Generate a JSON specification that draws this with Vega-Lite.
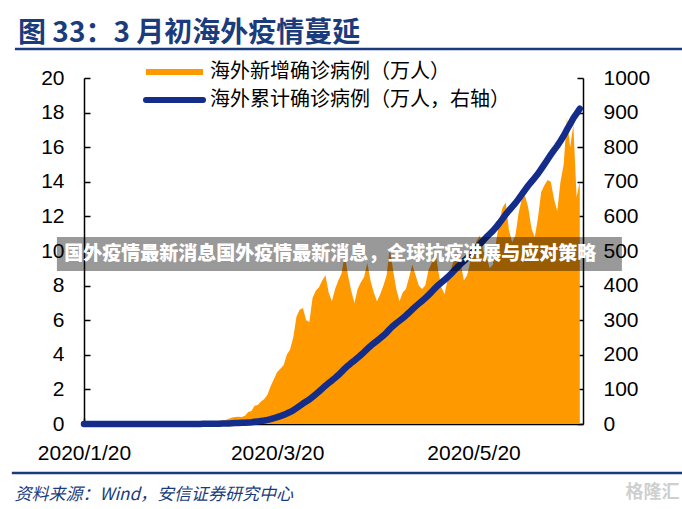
{
"$schema": "https://vega.github.io/schema/vega-lite/v6.json",
"width": 499, "height": 346,
"autosize": {"type": "none"},
"padding": {"left": 84, "top": 78, "right": 99, "bottom": 85},
"background": "white",
"config": {"view": {"stroke": null}, "font": "Liberation Sans", "axis": {"labelOverlap": false}},
"title": {"text": "图 33：3 月初海外疫情蔓延", "anchor": "start", "frame": "group", "dx": -66, "offset": 0, "font": "Noto Sans CJK SC", "fontSize": 28, "fontWeight": "bold", "color": "#1B3C7C"},
"datasets": {"d": [
{"date":"2020-01-20","new":0.0002,"cum":0.0006},{"date":"2020-01-21","new":0.0001,"cum":0.0007},{"date":"2020-01-22","new":0.0002,"cum":0.0009},{"date":"2020-01-23","new":0.0003,"cum":0.0012},{"date":"2020-01-24","new":0.0005,"cum":0.0017},{"date":"2020-01-25","new":0.0006,"cum":0.0023},{"date":"2020-01-26","new":0.0008,"cum":0.0031},{"date":"2020-01-27","new":0.0007,"cum":0.0038},{"date":"2020-01-28","new":0.001,"cum":0.0048},{"date":"2020-01-29","new":0.001,"cum":0.0058},{"date":"2020-01-30","new":0.0015,"cum":0.0073},{"date":"2020-01-31","new":0.002,"cum":0.0093},
{"date":"2020-02-01","new":0.002,"cum":0.0113},{"date":"2020-02-02","new":0.002,"cum":0.0133},{"date":"2020-02-03","new":0.002,"cum":0.0153},{"date":"2020-02-04","new":0.003,"cum":0.0183},{"date":"2020-02-05","new":0.003,"cum":0.0213},{"date":"2020-02-06","new":0.003,"cum":0.0243},{"date":"2020-02-07","new":0.004,"cum":0.0283},{"date":"2020-02-08","new":0.004,"cum":0.0323},{"date":"2020-02-09","new":0.003,"cum":0.0353},{"date":"2020-02-10","new":0.004,"cum":0.0393},{"date":"2020-02-11","new":0.003,"cum":0.0423},{"date":"2020-02-12","new":0.003,"cum":0.0453},{"date":"2020-02-13","new":0.004,"cum":0.0493},{"date":"2020-02-14","new":0.005,"cum":0.0543},{"date":"2020-02-15","new":0.005,"cum":0.0593},{"date":"2020-02-16","new":0.004,"cum":0.0633},{"date":"2020-02-17","new":0.005,"cum":0.0683},{"date":"2020-02-18","new":0.006,"cum":0.0743},{"date":"2020-02-19","new":0.008,"cum":0.0823},{"date":"2020-02-20","new":0.01,"cum":0.0923},
{"date":"2020-02-21","new":0.02,"cum":0.11},{"date":"2020-02-22","new":0.04,"cum":0.15},{"date":"2020-02-23","new":0.05,"cum":0.2},{"date":"2020-02-24","new":0.04,"cum":0.24},{"date":"2020-02-25","new":0.06,"cum":0.3},{"date":"2020-02-26","new":0.07,"cum":0.37},{"date":"2020-02-27","new":0.08,"cum":0.45},{"date":"2020-02-28","new":0.1,"cum":0.55},{"date":"2020-02-29","new":0.12,"cum":0.67},
{"date":"2020-03-01","new":0.18,"cum":0.85},{"date":"2020-03-02","new":0.19,"cum":1.04},{"date":"2020-03-03","new":0.2,"cum":1.24},{"date":"2020-03-04","new":0.23,"cum":1.47},{"date":"2020-03-05","new":0.3,"cum":1.77},{"date":"2020-03-06","new":0.38,"cum":2.15},{"date":"2020-03-07","new":0.4,"cum":2.55},{"date":"2020-03-08","new":0.42,"cum":2.97},{"date":"2020-03-09","new":0.4,"cum":3.37},{"date":"2020-03-10","new":0.48,"cum":3.85},
{"date":"2020-03-11","new":0.7,"cum":4.55},{"date":"2020-03-12","new":0.75,"cum":5.3},{"date":"2020-03-13","new":1.05,"cum":6.35},{"date":"2020-03-14","new":1.1,"cum":7.45},{"date":"2020-03-15","new":1.3,"cum":8.75},{"date":"2020-03-16","new":1.45,"cum":10.2},{"date":"2020-03-17","new":1.7,"cum":11.9},{"date":"2020-03-18","new":2.2,"cum":14.1},{"date":"2020-03-19","new":2.6,"cum":16.7},{"date":"2020-03-20","new":3.0,"cum":19.7},
{"date":"2020-03-21","new":3.2,"cum":22.9},{"date":"2020-03-22","new":3.4,"cum":26.3},{"date":"2020-03-23","new":4.0,"cum":30.3},{"date":"2020-03-24","new":4.3,"cum":34.6},{"date":"2020-03-25","new":5.0,"cum":39.6},{"date":"2020-03-26","new":6.2,"cum":45.8},{"date":"2020-03-27","new":6.6,"cum":52.4},{"date":"2020-03-28","new":6.7,"cum":59.1},{"date":"2020-03-29","new":6.0,"cum":65.1},{"date":"2020-03-30","new":5.9,"cum":71.0},{"date":"2020-03-31","new":7.3,"cum":78.3},
{"date":"2020-04-01","new":7.7,"cum":86.0},{"date":"2020-04-02","new":7.9,"cum":93.9},{"date":"2020-04-03","new":8.3,"cum":102.2},{"date":"2020-04-04","new":8.6,"cum":110.8},{"date":"2020-04-05","new":7.6,"cum":118.4},{"date":"2020-04-06","new":7.1,"cum":125.5},{"date":"2020-04-07","new":7.8,"cum":133.3},{"date":"2020-04-08","new":8.3,"cum":141.6},{"date":"2020-04-09","new":8.7,"cum":150.3},{"date":"2020-04-10","new":9.8,"cum":160.1},
{"date":"2020-04-11","new":8.6,"cum":168.7},{"date":"2020-04-12","new":7.7,"cum":176.4},{"date":"2020-04-13","new":7.0,"cum":183.4},{"date":"2020-04-14","new":7.8,"cum":191.2},{"date":"2020-04-15","new":8.2,"cum":199.4},{"date":"2020-04-16","new":8.5,"cum":207.9},{"date":"2020-04-17","new":9.3,"cum":217.2},{"date":"2020-04-18","new":8.3,"cum":225.5},{"date":"2020-04-19","new":7.6,"cum":233.1},{"date":"2020-04-20","new":7.1,"cum":240.2},
{"date":"2020-04-21","new":7.5,"cum":247.7},{"date":"2020-04-22","new":8.0,"cum":255.7},{"date":"2020-04-23","new":8.6,"cum":264.3},{"date":"2020-04-24","new":10.2,"cum":274.5},{"date":"2020-04-25","new":8.9,"cum":283.4},{"date":"2020-04-26","new":7.8,"cum":291.2},{"date":"2020-04-27","new":7.1,"cum":298.3},{"date":"2020-04-28","new":7.6,"cum":305.9},{"date":"2020-04-29","new":7.8,"cum":313.7},{"date":"2020-04-30","new":8.5,"cum":322.2},
{"date":"2020-05-01","new":9.2,"cum":331.4},{"date":"2020-05-02","new":8.6,"cum":340.0},{"date":"2020-05-03","new":8.0,"cum":348.0},{"date":"2020-05-04","new":7.8,"cum":355.8},{"date":"2020-05-05","new":8.0,"cum":363.8},{"date":"2020-05-06","new":8.9,"cum":372.7},{"date":"2020-05-07","new":9.3,"cum":382.0},{"date":"2020-05-08","new":10.2,"cum":392.2},{"date":"2020-05-09","new":8.9,"cum":401.1},{"date":"2020-05-10","new":7.9,"cum":409.0},
{"date":"2020-05-11","new":7.5,"cum":416.5},{"date":"2020-05-12","new":8.4,"cum":424.9},{"date":"2020-05-13","new":8.9,"cum":433.8},{"date":"2020-05-14","new":9.6,"cum":443.4},{"date":"2020-05-15","new":9.9,"cum":453.3},{"date":"2020-05-16","new":9.3,"cum":462.6},{"date":"2020-05-17","new":8.3,"cum":470.9},{"date":"2020-05-18","new":8.6,"cum":479.5},{"date":"2020-05-19","new":9.4,"cum":488.9},{"date":"2020-05-20","new":10.0,"cum":498.9},
{"date":"2020-05-21","new":10.6,"cum":509.5},{"date":"2020-05-22","new":10.9,"cum":520.4},{"date":"2020-05-23","new":10.0,"cum":530.4},{"date":"2020-05-24","new":9.7,"cum":540.1},{"date":"2020-05-25","new":9.0,"cum":549.1},{"date":"2020-05-26","new":9.2,"cum":558.3},{"date":"2020-05-27","new":10.5,"cum":568.8},{"date":"2020-05-28","new":11.7,"cum":580.5},{"date":"2020-05-29","new":12.5,"cum":593.0},{"date":"2020-05-30","new":12.8,"cum":605.8},{"date":"2020-05-31","new":11.2,"cum":617.0},
{"date":"2020-06-01","new":10.5,"cum":627.5},{"date":"2020-06-02","new":10.9,"cum":638.4},{"date":"2020-06-03","new":12.2,"cum":650.6},{"date":"2020-06-04","new":13.0,"cum":663.6},{"date":"2020-06-05","new":13.2,"cum":676.8},{"date":"2020-06-06","new":12.5,"cum":689.3},{"date":"2020-06-07","new":11.3,"cum":700.6},{"date":"2020-06-08","new":10.8,"cum":711.4},{"date":"2020-06-09","new":11.9,"cum":723.3},{"date":"2020-06-10","new":13.4,"cum":736.7},
{"date":"2020-06-11","new":13.8,"cum":750.5},{"date":"2020-06-12","new":14.1,"cum":764.6},{"date":"2020-06-13","new":14.0,"cum":778.6},{"date":"2020-06-14","new":13.0,"cum":791.6},{"date":"2020-06-15","new":12.3,"cum":803.9},{"date":"2020-06-16","new":14.0,"cum":817.9},{"date":"2020-06-17","new":15.0,"cum":832.9},{"date":"2020-06-18","new":17.7,"cum":850.6},{"date":"2020-06-19","new":16.0,"cum":866.6},{"date":"2020-06-20","new":17.3,"cum":883.9},
{"date":"2020-06-21","new":13.1,"cum":897.0},{"date":"2020-06-22","new":14.0,"cum":911.0}
]},
"layer": [
 {"data": {"name": "d"},
  "mark": {"type": "area", "color": "#FF9900", "interpolate": "linear"},
  "encoding": {
   "x": {"field": "date", "type": "temporal",
     "scale": {"domain": [{"year": 2020, "month": 1, "date": 20}, {"year": 2020, "month": 6, "date": 23}], "nice": false},
     "axis": {"values": [{"year": 2020, "month": 1, "date": 20}, {"year": 2020, "month": 3, "date": 20}, {"year": 2020, "month": 5, "date": 20}],
       "format": "%Y/%-m/%-d", "labelFont": "Liberation Sans", "labelFontSize": 21, "labelColor": "#000", "labelFlush": false, "labelOverlap": false,
       "tickSize": -6, "tickColor": "#000", "tickWidth": 1.5, "domainColor": "#000", "domainWidth": 1.5, "labelPadding": 24, "grid": false,
       "title": "资料来源：Wind，安信证券研究中心", "titleFont": "Noto Sans CJK SC", "titleFontSize": 17, "titleFontStyle": "italic", "titleFontWeight": "normal",
       "titleColor": "#1B3C7C", "titleAnchor": "start", "titleAlign": "left", "titleBaseline": "alphabetic", "titleX": -70, "titleY": 75}},
   "y": {"field": "new", "type": "quantitative", "scale": {"domain": [0, 20], "nice": false},
     "axis": {"values": [0, 2, 4, 6, 8, 10, 12, 14, 16, 18, 20], "title": null, "grid": false, "labelOverlap": false, "labelFont": "Liberation Sans", "labelFontSize": 21, "labelColor": "#000",
       "tickSize": -6, "tickColor": "#000", "tickWidth": 1.5, "domainColor": "#000", "domainWidth": 1.5, "labelPadding": 26}},
   "color": {"datum": "海外新增确诊病例（万人）", "type": "nominal",
     "scale": {"domain": ["海外新增确诊病例（万人）", "海外累计确诊病例（万人，右轴）"], "range": ["#FF9900", "#142D8A"]},
     "legend": {"orient": "none", "legendX": 59, "legendY": -18, "title": null, "symbolType": "stroke", "symbolSize": 3249, "symbolStrokeWidth": 6,
       "clipHeight": 24, "labelFont": "Noto Sans CJK SC", "labelFontSize": 20, "labelColor": "#000", "labelOffset": 4, "rowPadding": 4, "labelLimit": 0,
       "encode": {"symbols": {"update": {"stroke": {"scale": "color", "field": "value"}, "strokeCap": {"signal": "datum.value === '海外新增确诊病例（万人）' ? 'butt' : 'round'"}}}}}}
  }},
 {"data": {"name": "d"},
  "mark": {"type": "line", "strokeWidth": 6.5, "strokeCap": "round", "strokeJoin": "round"},
  "encoding": {
   "x": {"field": "date", "type": "temporal"},
   "y": {"field": "cum", "type": "quantitative", "scale": {"domain": [0, 1000], "nice": false},
     "axis": {"orient": "right", "values": [0, 100, 200, 300, 400, 500, 600, 700, 800, 900, 1000], "format": "d", "title": null, "grid": false, "labelOverlap": false, "labelFont": "Liberation Sans", "labelFontSize": 21, "labelColor": "#000",
       "tickSize": -6, "tickColor": "#000", "tickWidth": 1.5, "domainColor": "#000", "domainWidth": 1.5, "labelPadding": 26}},
   "color": {"datum": "海外累计确诊病例（万人，右轴）", "type": "nominal"}
  }},
 {"data": {"values": [{}]},
  "layer": [
   {"mark": {"type": "rect", "color": "#000", "opacity": 0.4},
    "encoding": {"x": {"datum": {"year": 2020, "month": 1, "date": 11, "hours": 14}, "type": "temporal"},
      "x2": {"datum": {"year": 2020, "month": 7, "date": 5, "hours": 2}},
      "y": {"datum": 10.81, "type": "quantitative", "scale": {"domain": [0, 20], "nice": false}, "axis": null},
      "y2": {"datum": 8.84}}},
   {"mark": {"type": "rule", "color": "#1B3C7C", "strokeWidth": 2.5},
    "encoding": {"x": {"datum": {"year": 2019, "month": 12, "date": 29, "hours": 13}, "type": "temporal"},
      "x2": {"datum": {"year": 2020, "month": 7, "date": 24}},
      "y": {"datum": 21.68, "type": "quantitative", "axis": null}}},
   {"mark": {"type": "rule", "color": "#1B3C7C", "strokeWidth": 2.5},
    "encoding": {"x": {"datum": {"year": 2019, "month": 12, "date": 28, "hours": 14}, "type": "temporal"},
      "x2": {"datum": {"year": 2020, "month": 7, "date": 24}},
      "y": {"datum": -2.83, "type": "quantitative", "axis": null}}},
   {"mark": {"type": "text", "color": "#fff", "font": "Noto Sans CJK SC", "fontWeight": 900, "fontSize": 19, "align": "center", "baseline": "middle"},
    "encoding": {"x": {"datum": {"year": 2020, "month": 4, "date": 5, "hours": 12}, "type": "temporal"},
      "y": {"datum": 9.83, "type": "quantitative", "axis": null},
      "text": {"value": "国外疫情最新消息国外疫情最新消息，全球抗疫进展与应对策略"}}},
   {"mark": {"type": "text", "color": "#cfcfcf", "font": "Noto Sans CJK SC", "fontWeight": "bold", "fontSize": 18, "align": "right", "baseline": "middle"},
    "encoding": {"x": {"datum": {"year": 2020, "month": 7, "date": 23}, "type": "temporal"},
      "y": {"datum": -3.99, "type": "quantitative", "axis": null},
      "text": {"value": "格隆汇"}}}
  ]}
],
"resolve": {"scale": {"y": "independent"}}
}
